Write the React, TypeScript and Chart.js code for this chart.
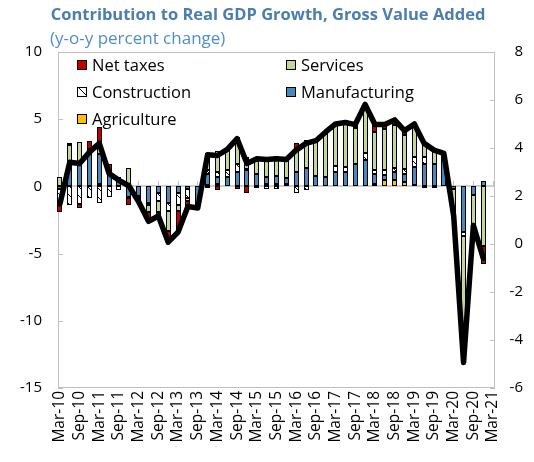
import React, { useEffect, useRef } from 'react';
import { Chart, registerables } from 'chart.js';

Chart.register(...registerables);

const quarters = [
  'Mar-10', 'Jun-10', 'Sep-10', 'Dec-10',
  'Mar-11', 'Jun-11', 'Sep-11', 'Dec-11',
  'Mar-12', 'Jun-12', 'Sep-12', 'Dec-12',
  'Mar-13', 'Jun-13', 'Sep-13', 'Dec-13',
  'Mar-14', 'Jun-14', 'Sep-14', 'Dec-14',
  'Mar-15', 'Jun-15', 'Sep-15', 'Dec-15',
  'Mar-16', 'Jun-16', 'Sep-16', 'Dec-16',
  'Mar-17', 'Jun-17', 'Sep-17', 'Dec-17',
  'Mar-18', 'Jun-18', 'Sep-18', 'Dec-18',
  'Mar-19', 'Jun-19', 'Sep-19', 'Dec-19',
  'Mar-20', 'Jun-20', 'Sep-20', 'Dec-20',
  'Mar-21',
];

const agriculture = [
  0, 0, 0, 0, 0.2, 0, 0, 0, 0, 0, 0, 0,
  0, 0, 0, 0.1, 0.2, 0, 0, 0, 0, 0.2, 0.2, 0.2,
  0, 0, 0, 0, 0, 0, 0, 0, 0.2, 0.45, 0.45, 0.3,
  0.1, 0, 0, 0, 0, 0, 0, 0, null,
];
const manufacturing = [
  -0.2, 1.6, 1.8, 2.4, 2.2, 1.2, 0.4, -0.8, -0.7, -1.2, -0.5, -1.2,
  -0.5, -0.2, -1.2, 0.8, 0.5, 0.7, 1.1, 1.2, 0.9, 0.5, 0.6, 0.45,
  1.05, 1.4, 0.8, 0.7, 1.05, 1.05, 1.65, 1.95, 0.75, 0.4, 0.6, 0.6,
  1.35, 1.7, 1.7, 2.0, -0.2, -3.4, -0.65, 0.4, null,
];
const construction = [
  -1.2, -1.4, -1.3, -0.9, -1.2, -0.8, -0.3, -0.1, -0.2, -0.2, -0.6, -0.6,
  -0.9, -0.7, -0.1, 0.3, 0.4, 0.5, 0.6, 0.1, -0.1, -0.2, -0.2, 0,
  -0.5, -0.25, 0, 0, 0.5, 0.4, 0, 0.5, 0.25, 0.35, 0.35, 0.4,
  0.75, 0.5, 0, 0, 0, -0.3, 0, 0, null,
];
const services = [
  0.7, 1.5, 1.5, 0.4, 0.8, 0, 0, 1.35, -0.2, -0.5, -0.8, -1.5,
  -0.4, -0.2, -0.2, 1.3, 1.5, 1.5, 2.0, 0.9, 1.0, 1.5, 1.4, 1.35,
  1.8, 2.05, 2.6, 3.35, 3.1, 3.3, 2.7, 3.65, 2.85, 3.1, 3.2, 2.5,
  2.45, 1.1, 1.1, 0.45, -2.0, -9.3, -2.25, -4.45, null,
];
const netTaxes = [
  -0.5, 0.1, -0.3, 0.6, 1.2, 0.5, 0.3, -0.45, -0.1, -0.7, -0.3, -0.8,
  -1.6, -0.4, -0.1, -0.1, -0.3, 0, -0.2, -0.5, 0.2, 0, 0.05, 0,
  0.35, 0, 0, 0, 0, 0, 0.25, 0, 0.55, 0.3, 0.35, 0.35,
  0, -0.1, -0.1, 0, 0, -0.1, 0, -1.3, null,
];
const gdpGrowth = [
  -1.3, 1.8, 1.7, 2.55, 3.2, 0.95, 0.45, 0.05, -1.15, -2.6, -2.2, -4.15,
  -3.4, -1.5, -1.6, 2.35, 2.3, 2.75, 3.55, 1.7, 2.05, 2.0, 2.05, 2.0,
  2.7, 3.2, 3.4, 4.05, 4.65, 4.75, 4.6, 6.1, 4.6, 4.6, 4.95, 4.15,
  4.65, 3.2, 2.7, 2.45, -2.2, -13.1, -2.9, -5.35, null,
];

const leftTicks = [-15, -10, -5, 0, 5, 10];
const rightTicks = [-6, -4, -2, 0, 2, 4, 6, 8];

const COLORS = {
  netTaxes: '#C00000',
  services: '#C4D79B',
  manufacturing: '#4A89BC',
  agriculture: '#FFC000',
  frame: '#BFBFBF',
};

const FONT = '"Open Sans", "Noto Sans", sans-serif';

function makeHatch(): CanvasPattern | string {
  const n = 9;
  const pc = document.createElement('canvas');
  pc.width = n;
  pc.height = n;
  const g = pc.getContext('2d');
  if (!g) return '#ffffff';
  g.fillStyle = '#ffffff';
  g.fillRect(0, 0, n, n);
  g.fillStyle = '#000000';
  for (let i = 0; i < n; i++) g.fillRect(i, i, 1, 1);
  const p = g.createPattern(pc, 'repeat');
  return p || '#ffffff';
}

const nz = (arr: (number | null)[]) => arr.map((v) => (v === 0 ? null : v));

export default function App() {
  const ref = useRef<HTMLCanvasElement>(null);

  useEffect(() => {
    const canvas = ref.current;
    if (!canvas) return;
    const hatch = makeHatch();

    const legendItems = [
      { label: 'Net taxes', fill: COLORS.netTaxes, x: 77, y: 65 },
      { label: 'Services', fill: COLORS.services, x: 286, y: 65 },
      { label: 'Construction', fill: hatch, x: 77, y: 92 },
      { label: 'Manufacturing', fill: COLORS.manufacturing, x: 286, y: 92 },
      { label: 'Agriculture', fill: COLORS.agriculture, x: 77, y: 119 },
    ];

    // frame is inset from the category area, as in the source chart
    const INSET_L = 2.5;
    const INSET_R = 3;

    const framePlugin = {
      id: 'framePlugin',
      beforeDatasetsDraw(chart: any) {
        const { ctx, chartArea } = chart;
        const left = Math.round(chartArea.left + INSET_L);
        const right = Math.round(chartArea.right - INSET_R);
        const { top, bottom } = chartArea;
        ctx.save();
        ctx.strokeStyle = COLORS.frame;
        ctx.lineWidth = 1;
        ctx.strokeRect(left + 0.5, top + 0.5, right - left - 1, bottom - top - 1);
        const yS = chart.scales.y;
        const yR = chart.scales.yR;
        const xS = chart.scales.x;
        ctx.beginPath();
        leftTicks.forEach((v) => {
          const py = Math.round(yS.getPixelForValue(v)) + 0.5;
          ctx.moveTo(left, py);
          ctx.lineTo(left + 5, py);
        });
        rightTicks.forEach((v) => {
          const py = Math.round(yR.getPixelForValue(v)) + 0.5;
          ctx.moveTo(right - 5, py);
          ctx.lineTo(right, py);
        });
        const y0 = Math.round(yS.getPixelForValue(0));
        quarters.forEach((q, i) => {
          if (i % 2 === 0) {
            const px = Math.floor(xS.getPixelForValue(i)) + 0.5;
            ctx.moveTo(px, y0 - 5);
            ctx.lineTo(px, y0);
          }
        });
        ctx.stroke();
        ctx.lineWidth = 1.5;
        ctx.beginPath();
        ctx.moveTo(left, y0);
        ctx.lineTo(right, y0);
        ctx.stroke();
        ctx.restore();

        // snap bar segments to whole pixels so the thin bars stay crisp
        chart.data.datasets.forEach((_ds: any, di: number) => {
          const meta = chart.getDatasetMeta(di);
          if (meta.type !== 'bar') return;
          meta.data.forEach((el: any) => {
            el.x = Math.floor(el.x) + 0.5;
            el.width = 5;
            el.y = Math.round(el.y);
            el.base = Math.round(el.base);
          });
        });
      },
      afterDraw(chart: any) {
        const { ctx } = chart;
        ctx.save();
        ctx.font = `16.5px ${FONT}`;
        ctx.textBaseline = 'middle';
        ctx.textAlign = 'left';
        legendItems.forEach((it) => {
          ctx.fillStyle = it.fill;
          ctx.fillRect(it.x, it.y - 5, 10, 10);
          ctx.strokeStyle = '#000';
          ctx.lineWidth = 1;
          ctx.strokeRect(it.x + 0.5, it.y - 4.5, 9, 9);
          ctx.fillStyle = '#000';
          ctx.fillText(it.label, it.x + 15, it.y + 1);
        });
        ctx.restore();
      },
    };

    const barCommon = {
      type: 'bar' as const,
      stack: 'gva',
      yAxisID: 'y',
      barPercentage: 0.52,
      categoryPercentage: 1,
      maxBarThickness: 5,
      borderWidth: 1,
      borderColor: '#000000',
      borderSkipped: false as const,
      inflateAmount: 0,
      order: 2,
    };

    const chart = new Chart(canvas, {
      type: 'bar',
      data: {
        labels: quarters,
        datasets: [
          { ...barCommon, label: 'Agriculture', data: nz(agriculture), backgroundColor: COLORS.agriculture },
          { ...barCommon, label: 'Manufacturing', data: nz(manufacturing), backgroundColor: COLORS.manufacturing },
          { ...barCommon, label: 'Construction', data: nz(construction), backgroundColor: hatch as any },
          { ...barCommon, label: 'Services', data: nz(services), backgroundColor: COLORS.services },
          { ...barCommon, label: 'Net taxes', data: nz(netTaxes), backgroundColor: COLORS.netTaxes },
          {
            type: 'line',
            label: 'Real GDP growth',
            data: gdpGrowth,
            yAxisID: 'yLine',
            borderColor: '#000000',
            borderWidth: 5.5,
            pointRadius: 0,
            tension: 0,
            borderJoinStyle: 'round',
            borderCapStyle: 'round',
            spanGaps: false,
            order: 1,
          } as any,
        ],
      },
      options: {
        animation: false,
        responsive: false,
        maintainAspectRatio: false,
        layout: { padding: { top: 52, right: 11, left: 0, bottom: 0 } },
        plugins: {
          legend: { display: false },
          title: { display: false },
          tooltip: { enabled: false },
        },
        scales: {
          x: {
            stacked: true,
            offset: true,
            grid: { display: false, drawTicks: false },
            border: { display: false },
            ticks: {
              autoSkip: false,
              maxRotation: 90,
              minRotation: 90,
              padding: 3,
              color: '#000',
              font: { family: FONT, size: 15.5 },
              callback: (_v: any, i: number) => (i % 2 === 0 ? quarters[i] : ''),
            },
            afterFit: (s: any) => {
              s.height = 74;
            },
          },
          y: {
            stacked: true,
            position: 'left',
            min: -15,
            max: 10,
            afterBuildTicks: (s: any) => {
              s.ticks = leftTicks.map((v) => ({ value: v }));
            },
            ticks: {
              padding: 13,
              color: '#000',
              font: { family: FONT, size: 15 },
            },
            grid: { display: false, drawTicks: false },
            border: { display: false },
            afterFit: (s: any) => {
              s.width = 55;
            },
          },
          yR: {
            position: 'right',
            min: -6,
            max: 8,
            afterBuildTicks: (s: any) => {
              s.ticks = rightTicks.map((v) => ({ value: v }));
            },
            ticks: {
              crossAlign: 'far',
              padding: 6,
              color: '#000',
              font: { family: FONT, size: 15 },
            },
            grid: { display: false, drawTicks: false },
            border: { display: false },
            afterFit: (s: any) => {
              s.width = 25;
            },
          },
          yLine: {
            display: false,
            min: -15,
            max: 10,
          },
        },
      } as any,
      plugins: [framePlugin],
    });

    return () => chart.destroy();
  }, []);

  return (
    <div style={{ position: 'fixed', left: 0, top: 0, width: 534, height: 462, background: '#fff', overflow: 'hidden' }}>
      <canvas ref={ref} width={534} height={462} style={{ position: 'absolute', left: 0, top: 0, width: 534, height: 462 }} />
      <div
        style={{
          position: 'absolute',
          left: 0,
          top: 3,
          width: 536,
          textAlign: 'center',
          fontFamily: FONT,
          fontWeight: 700,
          fontSize: 16.5,
          lineHeight: '22px',
          color: '#4A7DB0',
          whiteSpace: 'nowrap',
        }}
      >
        Contribution to Real GDP Growth, Gross Value Added
      </div>
      <div
        style={{
          position: 'absolute',
          left: 50,
          top: 27,
          fontFamily: FONT,
          fontSize: 17,
          lineHeight: '22px',
          color: '#4E8FCB',
          whiteSpace: 'nowrap',
        }}
      >
        (y-o-y percent change)
      </div>
    </div>
  );
}
